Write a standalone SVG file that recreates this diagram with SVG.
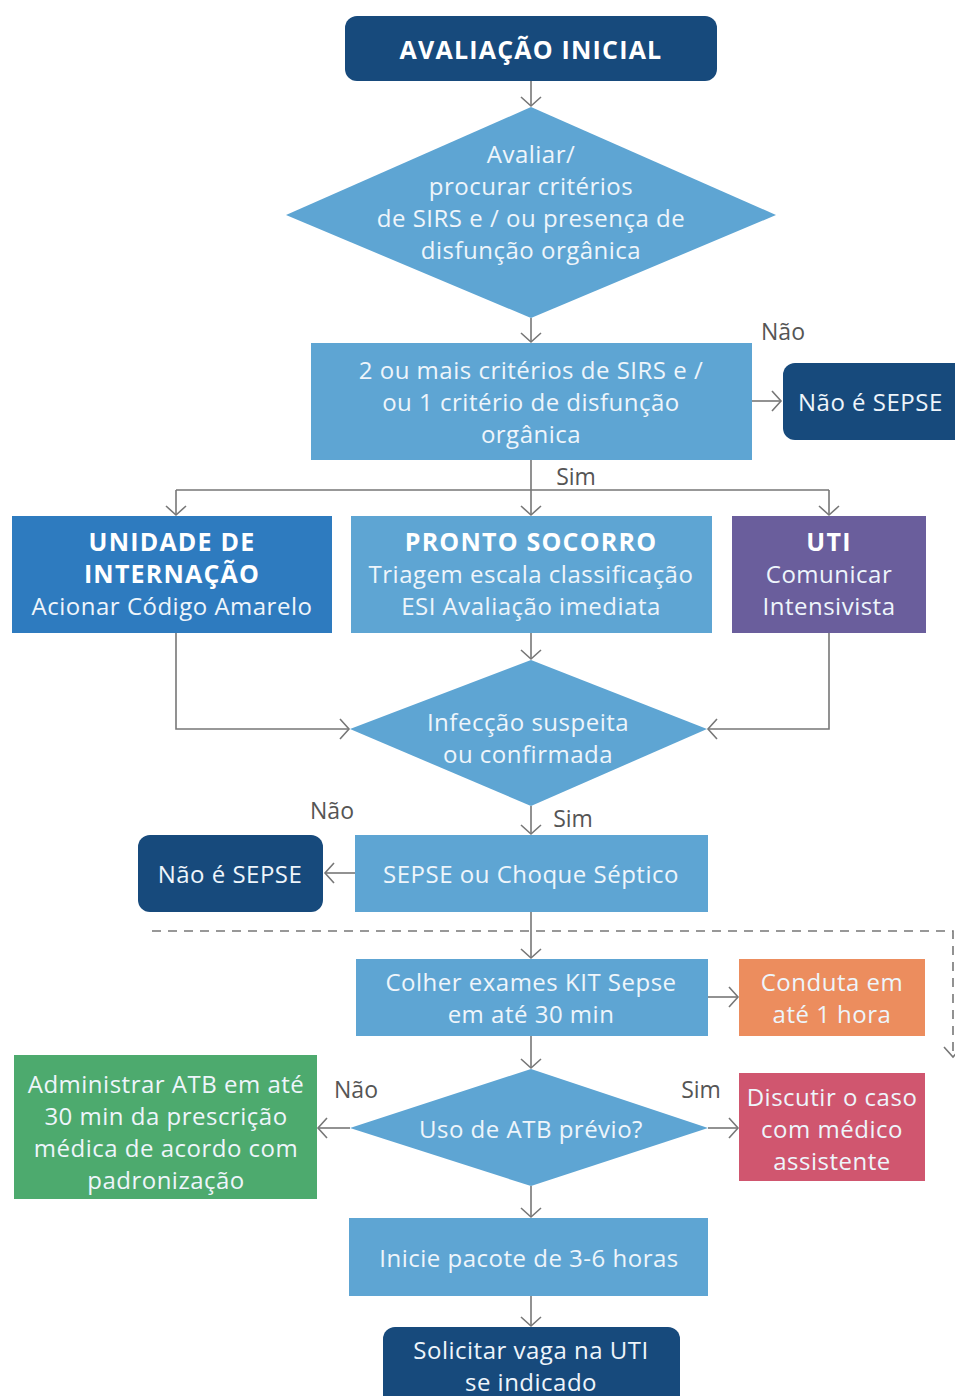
<svg xmlns="http://www.w3.org/2000/svg" width="955" height="1396" viewBox="0 0 955 1396">
<style>
.t{font-family:"Open Sans","Lato",sans-serif;font-size:24px;letter-spacing:0.5px;fill:#eef5fb;text-anchor:middle;dominant-baseline:central}
.b{font-weight:bold;font-size:25px;letter-spacing:1.2px;fill:#ffffff}
.lbl{font-family:"Open Sans","Lato",sans-serif;font-size:23px;fill:#555555;text-anchor:middle;dominant-baseline:central}
.c{fill:none;stroke:#777777;stroke-width:1.6}
.navy{fill:#174a7c}
.lb{fill:#5ea5d3}
.mb{fill:#2e7bbf}
.pu{fill:#6a5e9c}
.or{fill:#ec8d5e}
.pk{fill:#d0566f}
.gr{fill:#4daa6e}
</style>
<defs>
<marker id="a" viewBox="-12 -12 24 24" markerWidth="24" markerHeight="24" refX="0" refY="0" orient="auto" markerUnits="userSpaceOnUse">
<path d="M-9,-10 L0,0 L-9,10" fill="none" stroke="#777777" stroke-width="1.6"/>
</marker>
</defs>
<rect width="955" height="1396" fill="#ffffff"/>

<g id="connectors">
<line class="c" x1="531" y1="81" x2="531" y2="106" marker-end="url(#a)"/>
<line class="c" x1="531" y1="318" x2="531" y2="342" marker-end="url(#a)"/>
<line class="c" x1="752" y1="401" x2="781" y2="401" marker-end="url(#a)"/>
<path class="c" d="M531,460 V490 M176,490 H829"/>
<line class="c" x1="176" y1="490" x2="176" y2="515" marker-end="url(#a)"/>
<line class="c" x1="531" y1="490" x2="531" y2="515" marker-end="url(#a)"/>
<line class="c" x1="829" y1="490" x2="829" y2="515" marker-end="url(#a)"/>
<line class="c" x1="531" y1="633" x2="531" y2="659" marker-end="url(#a)"/>
<path class="c" d="M176,633 V729 H349" marker-end="url(#a)"/>
<path class="c" d="M829,633 V729 H708" marker-end="url(#a)"/>
<line class="c" x1="531" y1="806" x2="531" y2="834" marker-end="url(#a)"/>
<line class="c" x1="355" y1="873" x2="325" y2="873" marker-end="url(#a)"/>
<line class="c" x1="531" y1="912" x2="531" y2="958" marker-end="url(#a)"/>
<path class="c" d="M152,931 H953 V1056" stroke-dasharray="9,7"/>
<path class="c" d="M944,1047 L953,1057 L962,1047"/>
<line class="c" x1="708" y1="997" x2="738" y2="997" marker-end="url(#a)"/>
<line class="c" x1="531" y1="1036" x2="531" y2="1068" marker-end="url(#a)"/>
<line class="c" x1="350" y1="1128" x2="318" y2="1128" marker-end="url(#a)"/>
<line class="c" x1="708" y1="1128" x2="738" y2="1128" marker-end="url(#a)"/>
<line class="c" x1="531" y1="1186" x2="531" y2="1217" marker-end="url(#a)"/>
<line class="c" x1="531" y1="1296" x2="531" y2="1326" marker-end="url(#a)"/>
<text class="lbl" x="783" y="331">Não</text>
<text class="lbl" x="576" y="476">Sim</text>
<text class="lbl" x="332" y="810">Não</text>
<text class="lbl" x="573" y="818">Sim</text>
<text class="lbl" x="356" y="1089">Não</text>
<text class="lbl" x="701" y="1089">Sim</text>
</g>

<g id="avaliacao-inicial">
<rect class="navy" x="345" y="16" width="372" height="65" rx="12"/>
<text class="t b" x="531" y="49">AVALIAÇÃO INICIAL</text>
</g>

<g id="avaliar">
<polygon class="lb" points="531,107 776,215 531,318 286,215"/>
<text class="t" x="531" y="153">Avaliar/</text>
<text class="t" x="531" y="185">procurar critérios</text>
<text class="t" x="531" y="217">de SIRS e / ou presença de</text>
<text class="t" x="531" y="249">disfunção orgânica</text>
</g>

<g id="criterios">
<rect class="lb" x="311" y="343" width="441" height="117"/>
<text class="t" x="531" y="369">2 ou mais critérios de SIRS e /</text>
<text class="t" x="531" y="401">ou 1 critério de disfunção</text>
<text class="t" x="531" y="433">orgânica</text>
</g>

<g id="nao-sepse-1">
<rect class="navy" x="783" y="363" width="200" height="77" rx="12"/>
<text class="t" x="798" y="401" style="text-anchor:start">Não é SEPSE</text>
</g>

<g id="unidade-internacao">
<rect class="mb" x="12" y="516" width="320" height="117"/>
<text class="t b" x="172" y="541">UNIDADE DE</text>
<text class="t b" x="172" y="573">INTERNAÇÃO</text>
<text class="t" x="172" y="605">Acionar Código Amarelo</text>
</g>

<g id="pronto-socorro">
<rect class="lb" x="351" y="516" width="361" height="117"/>
<text class="t b" x="531" y="541">PRONTO SOCORRO</text>
<text class="t" x="531" y="573">Triagem escala classificação</text>
<text class="t" x="531" y="605">ESI Avaliação imediata</text>
</g>

<g id="uti">
<rect class="pu" x="732" y="516" width="194" height="117"/>
<text class="t b" x="829" y="541">UTI</text>
<text class="t" x="829" y="573">Comunicar</text>
<text class="t" x="829" y="605">Intensivista</text>
</g>

<g id="infeccao">
<polygon class="lb" points="531,660 707,729 531,806 350,729"/>
<text class="t" x="528" y="721">Infecção suspeita</text>
<text class="t" x="528" y="753">ou confirmada</text>
</g>

<g id="sepse-choque">
<rect class="lb" x="355" y="835" width="353" height="77"/>
<text class="t" x="531" y="873">SEPSE ou Choque Séptico</text>
</g>

<g id="nao-sepse-2">
<rect class="navy" x="138" y="835" width="185" height="77" rx="12"/>
<text class="t" x="230" y="873">Não é SEPSE</text>
</g>

<g id="colher">
<rect class="lb" x="356" y="959" width="352" height="77"/>
<text class="t" x="531" y="981">Colher exames KIT Sepse</text>
<text class="t" x="531" y="1013">em até 30 min</text>
</g>

<g id="conduta">
<rect class="or" x="739" y="959" width="186" height="77"/>
<text class="t" x="832" y="981">Conduta em</text>
<text class="t" x="832" y="1013">até 1 hora</text>
</g>

<g id="uso-atb">
<polygon class="lb" points="531,1069 708,1128 531,1186 350,1128"/>
<text class="t" x="531" y="1128">Uso de ATB prévio?</text>
</g>

<g id="administrar">
<rect class="gr" x="14" y="1055" width="303" height="144"/>
<text class="t" x="166" y="1083">Administrar ATB em até</text>
<text class="t" x="166" y="1115">30 min da prescrição</text>
<text class="t" x="166" y="1147">médica de acordo com</text>
<text class="t" x="166" y="1179">padronização</text>
</g>

<g id="discutir">
<rect class="pk" x="739" y="1073" width="186" height="108"/>
<text class="t" x="832" y="1096">Discutir o caso</text>
<text class="t" x="832" y="1128">com médico</text>
<text class="t" x="832" y="1160">assistente</text>
</g>

<g id="inicie">
<rect class="lb" x="349" y="1218" width="359" height="78"/>
<text class="t" x="529" y="1257">Inicie pacote de 3-6 horas</text>
</g>

<g id="solicitar">
<rect class="navy" x="383" y="1327" width="297" height="90" rx="12"/>
<text class="t" x="531" y="1349">Solicitar vaga na UTI</text>
<text class="t" x="531" y="1381">se indicado</text>
</g>
</svg>
